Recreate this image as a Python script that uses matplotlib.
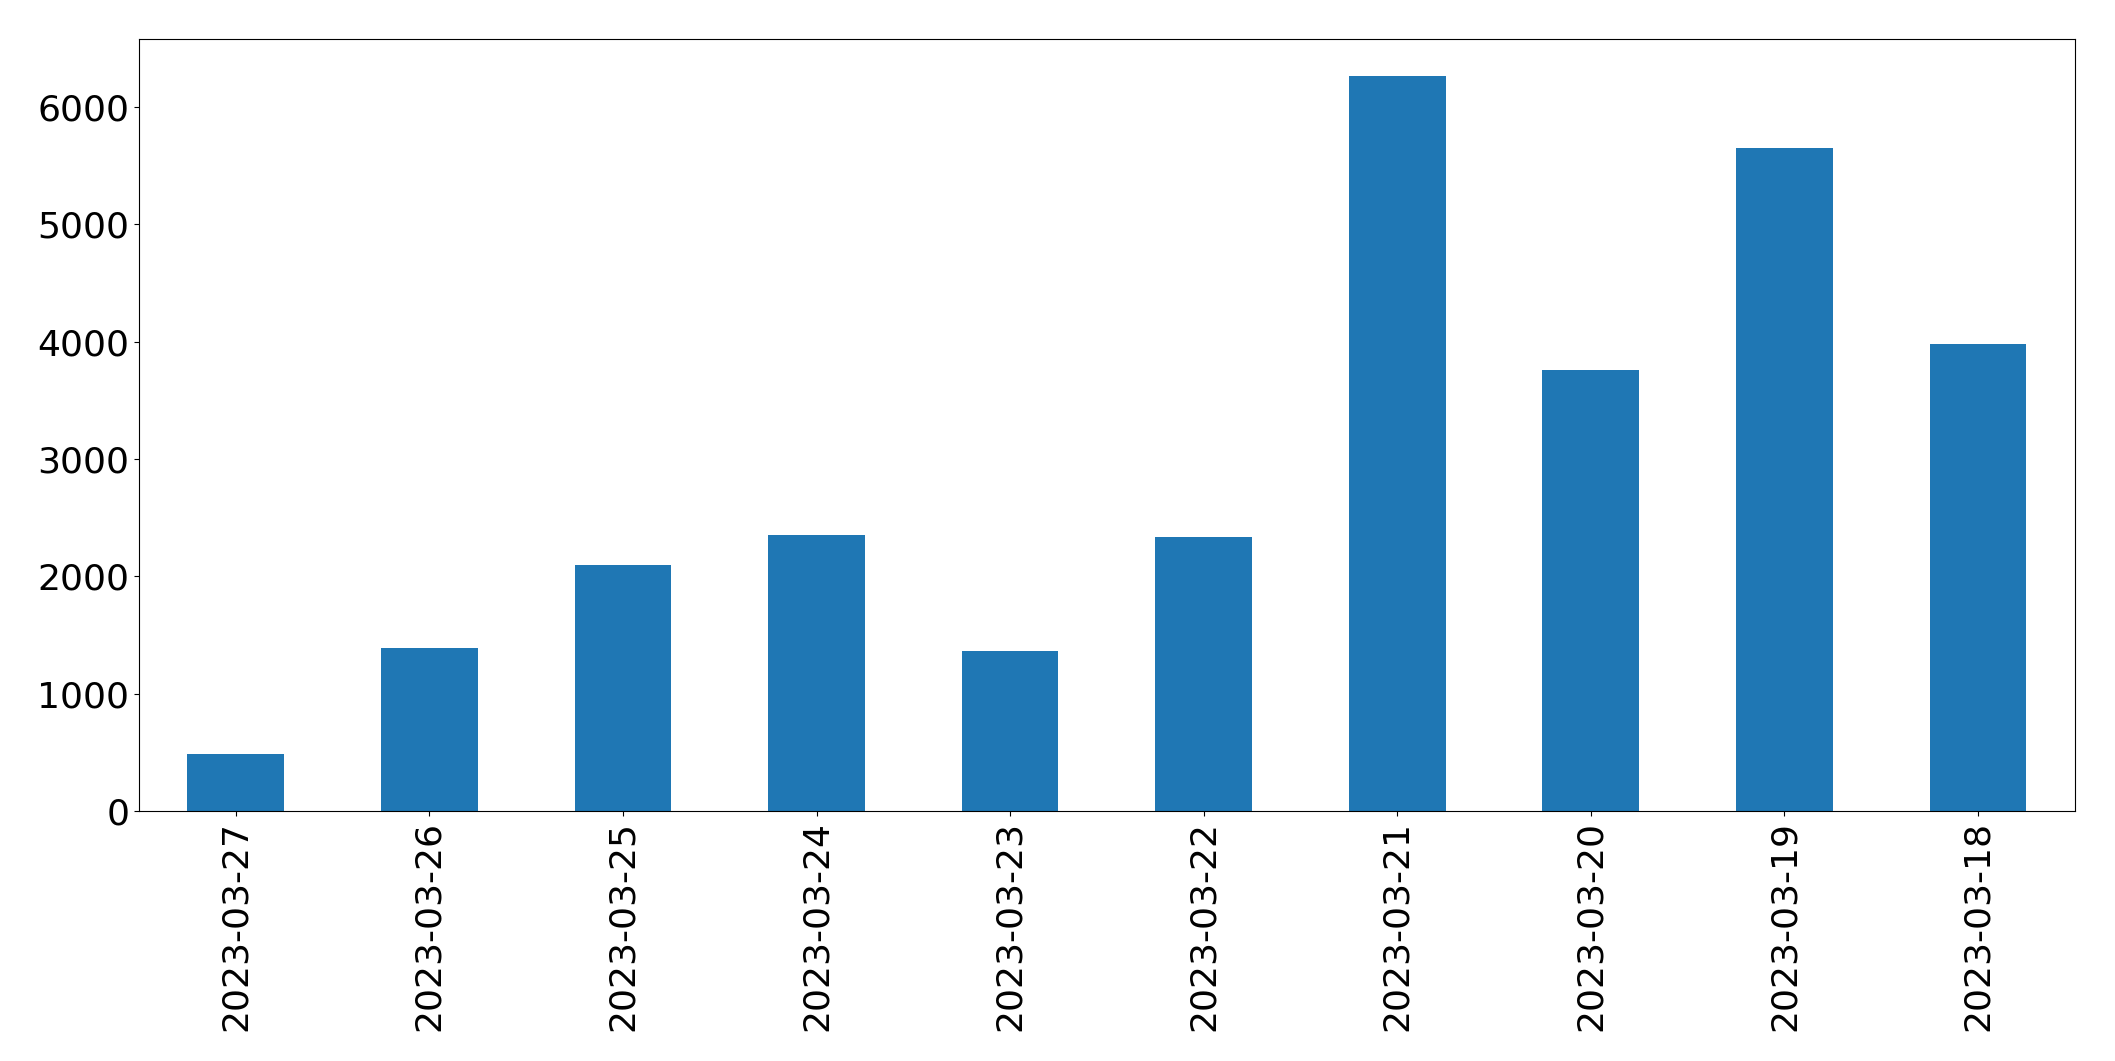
import numpy as np
import matplotlib.pyplot as plt

# %% data ---------------------------------------------------------------------
dates = ['2023-03-27', '2023-03-26', '2023-03-25', '2023-03-24', '2023-03-23',
         '2023-03-22', '2023-03-21', '2023-03-20', '2023-03-19', '2023-03-18']
counts = [485, 1385, 2095, 2350, 1360, 2335, 6262, 3755, 5650, 3975]

# %% plot ---------------------------------------------------------------------
fig = plt.figure(figsize=(21.15, 10.61), dpi=100)
ax = fig.add_axes([0.0657, 0.2356, 0.9153, 0.7274])

x = np.arange(len(dates))
ax.bar(x, counts, width=0.5, color='#1f77b4')
ax.set_xlim(-0.5, len(dates) - 0.5)
ax.set_xticks(x)
ax.set_xticklabels(dates, rotation=90)
ax.tick_params(labelsize=26)

fig.savefig('out.png', dpi=100)
